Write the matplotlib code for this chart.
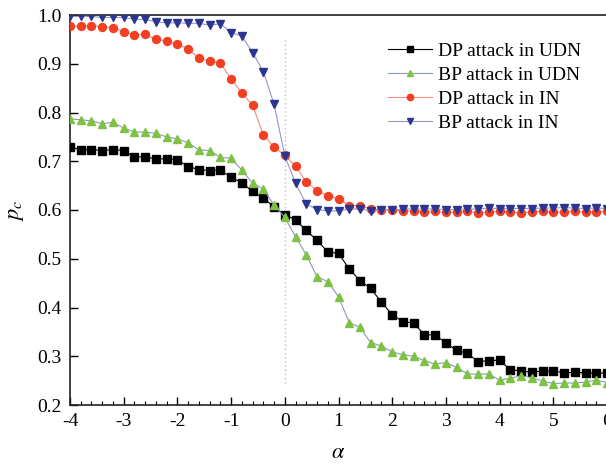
import numpy as np
import matplotlib
matplotlib.use("Agg")
import matplotlib.pyplot as plt
from matplotlib.ticker import MultipleLocator

alpha = np.round(np.arange(-4.0, 6.0001, 0.2), 1)

dp_udn = [0.730, 0.723, 0.724, 0.722, 0.724, 0.722, 0.709, 0.709, 0.705, 0.705,
          0.703, 0.689, 0.683, 0.681, 0.682, 0.667, 0.656, 0.638, 0.624, 0.607,
          0.590, 0.580, 0.558, 0.538, 0.514, 0.511, 0.479, 0.455, 0.439, 0.411,
          0.385, 0.371, 0.368, 0.344, 0.344, 0.327, 0.312, 0.306, 0.289, 0.291,
          0.292, 0.272, 0.270, 0.267, 0.270, 0.270, 0.266, 0.267, 0.266, 0.265,
          0.266]

bp_udn = [0.787, 0.785, 0.783, 0.777, 0.780, 0.768, 0.760, 0.760, 0.757, 0.750,
          0.746, 0.738, 0.723, 0.722, 0.708, 0.706, 0.682, 0.655, 0.643, 0.610,
          0.585, 0.545, 0.508, 0.463, 0.453, 0.422, 0.369, 0.359, 0.328, 0.321,
          0.309, 0.303, 0.300, 0.291, 0.284, 0.287, 0.277, 0.264, 0.263, 0.264,
          0.251, 0.255, 0.260, 0.256, 0.249, 0.244, 0.245, 0.245, 0.247, 0.251,
          0.246]

dp_in = [0.977, 0.977, 0.978, 0.976, 0.974, 0.966, 0.959, 0.961, 0.950, 0.947,
         0.940, 0.931, 0.911, 0.906, 0.901, 0.869, 0.840, 0.815, 0.754, 0.729,
         0.712, 0.690, 0.658, 0.640, 0.629, 0.623, 0.609, 0.609, 0.602, 0.601,
         0.600, 0.598, 0.597, 0.596, 0.597, 0.595, 0.596, 0.597, 0.594, 0.596,
         0.597, 0.595, 0.594, 0.596, 0.597, 0.595, 0.596, 0.597, 0.595, 0.596,
         0.597]

bp_in = [0.997, 0.997, 0.997, 0.995, 0.995, 0.995, 0.991, 0.991, 0.986, 0.984,
         0.984, 0.983, 0.983, 0.979, 0.982, 0.964, 0.957, 0.923, 0.884, 0.817,
         0.711, 0.655, 0.612, 0.601, 0.598, 0.598, 0.602, 0.602, 0.598, 0.600,
         0.600, 0.602, 0.602, 0.602, 0.602, 0.601, 0.601, 0.602, 0.602, 0.604,
         0.603, 0.603, 0.603, 0.603, 0.604, 0.604, 0.605, 0.604, 0.603, 0.604,
         0.603]

labels = ["DP attack in UDN", "BP attack in UDN", "DP attack in IN", "BP attack in IN"]
x_ticks = [-4, -3, -2, -1, 0, 1, 2, 3, 4, 5, 6]
y_ticks = [0.2, 0.3, 0.4, 0.5, 0.6, 0.7, 0.8, 0.9, 1.0]

plt.rcParams['font.family'] = ['Liberation Serif', 'DejaVu Serif']
plt.rcParams['mathtext.fontset'] = 'stix'

fig = plt.figure(figsize=(6.06, 4.67), dpi=100)
ax = fig.add_axes([70/606, 62/467, 537/606, 390/467])

ax.vlines(0, 0.245, 0.952, colors='#b8bfcc', linestyles=(0, (1, 2)), linewidth=1.0, zorder=1)

ax.plot(alpha, dp_udn, color='black', lw=0.8, marker='s', ms=5.2, mfc='black', mec='black',
        label=labels[0], zorder=3)
ax.plot(alpha, bp_udn, color='#8a97c4', lw=0.8, marker='^', ms=6.2, mfc='#7dc243', mec='#7dc243',
        label=labels[1], zorder=3)
ax.plot(alpha, dp_in, color='#f28a80', lw=0.8, marker='o', ms=5.7, mfc='#f23f22', mec='#f23f22',
        label=labels[2], zorder=3)
ax.plot(alpha, bp_in, color='#9298c8', lw=0.8, marker='v', ms=6.2, mfc='#2b3590', mec='#2b3590',
        label=labels[3], zorder=4)

ax.set_xlim(-4, 6)
ax.set_ylim(0.2, 1.0)
ax.set_xticks(x_ticks)
ax.set_xticklabels([str(t) for t in x_ticks])
ax.set_yticks(y_ticks)
ax.set_yticklabels([f"{t:.1f}" for t in y_ticks])
ax.xaxis.set_minor_locator(MultipleLocator(0.2))
ax.tick_params(axis='both', which='major', direction='in', length=6, width=1.0,
               labelsize=14, top=False, right=False, pad=6)
ax.tick_params(axis='x', which='minor', direction='in', length=3, width=0.8, top=False)
ax.tick_params(axis='y', which='minor', left=False, right=False)

for s in ['left', 'bottom', 'top']:
    ax.spines[s].set_linewidth(1.2)
    ax.spines[s].set_color('#222222')
ax.spines['right'].set_visible(False)

ax.set_xlabel(r'$\alpha$', fontsize=16, labelpad=10)
ax.set_ylabel(r'$p_c$', fontsize=16, labelpad=8)

leg = ax.legend(loc='upper right', bbox_to_anchor=(0.985, 0.975), frameon=False, fontsize=14,
                handlelength=2.3, handletextpad=0.3, labelspacing=0.33, markerscale=0.8)

fig.savefig('out.png', dpi=100)
